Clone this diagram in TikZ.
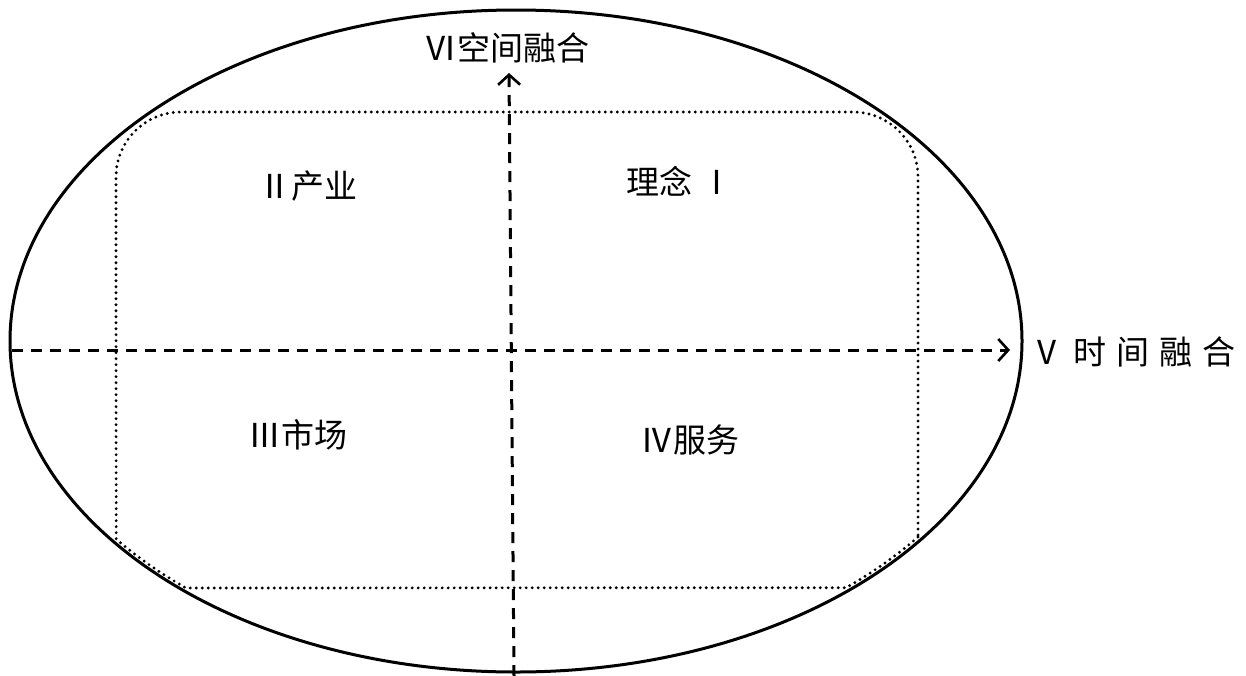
\documentclass[tikz,border=0pt]{standalone}
\usepackage{fontspec}
\newfontfamily\cjk{Noto Sans CJK SC}
\usetikzlibrary{arrows.meta}
\begin{document}
\begin{tikzpicture}[x=1pt,y=-1pt,
  outline/.style={line width=3pt,black},
  frame/.style={line width=3.2pt,line cap=round,dash pattern=on 0pt off 6pt},
  axis/.style={line width=3pt,dash pattern=on 11pt off 8pt,-{Straight Barb[length=10pt,width=22pt,line width=2.6pt]}},
  lbl/.style={font=\cjk\fontsize{33}{38}\selectfont,inner sep=0pt}]
\useasboundingbox (0,0) rectangle (1246,675);
\fill[white] (0,0) rectangle (1246,675);
\draw[outline] (516,341) ellipse [x radius=506, y radius=331];
\draw[frame] (918,537) arc[start angle=36.8,end angle=48.9,x radius=502,y radius=328]
  -- (186,588) arc[start angle=131.1,end angle=142.8,x radius=502,y radius=328]
  [rounded corners=65pt] -- (116,112) -- (918,112) -- (918,537);
\coordinate (vb) at (514,676);
\coordinate (vt) at (509,73);
\coordinate (hl) at (12,350);
\coordinate (hr) at (1010,350);
\draw[axis] (vb) -- (vt);
\draw[axis] (hl) -- (hr);
\node[lbl] (top) at (507,48) {Ⅵ空间融合};
\node[lbl,anchor=west] (right) at (1030,352) {Ⅴ\hspace{10pt}时\hspace{10pt}间\hspace{10pt}融\hspace{10pt}合};
\node[lbl] (q2) at (308,186) {Ⅱ产业};
\node[lbl] (q1) at (680,181) {理念 Ⅰ};
\node[lbl] (q3) at (298,435) {Ⅲ市场};
\node[lbl] (q4) at (690,440) {Ⅳ服务};
\end{tikzpicture}
\end{document}
